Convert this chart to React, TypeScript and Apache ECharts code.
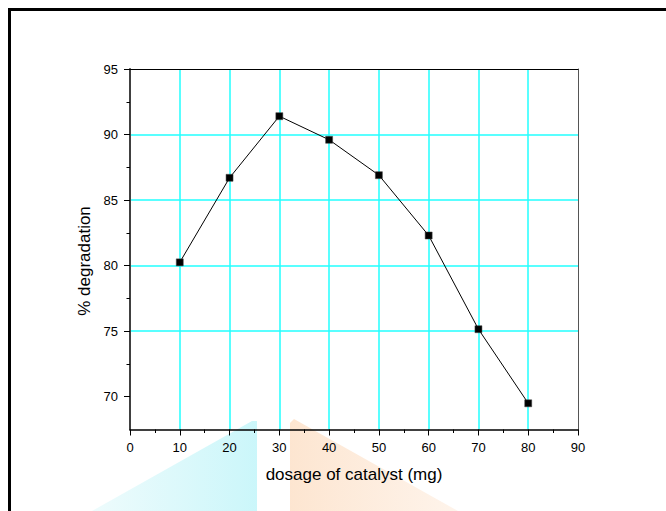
import React, { useEffect, useRef } from 'react';
import * as echarts from 'echarts';

const dosage = [10, 20, 30, 40, 50, 60, 70, 80];
const degradation = [80.25, 86.7, 91.4, 89.6, 86.9, 82.3, 75.15, 69.5];
const yMajorTicks = [70, 75, 80, 85, 90, 95];
const yMinorTicks = [72.5, 77.5, 82.5, 87.5, 92.5];
const xTitle = 'dosage of catalyst (mg)';
const yTitle = '% degradation';

export default function App() {
  const ref = useRef<HTMLDivElement>(null);
  useEffect(() => {
    const chart = echarts.init(ref.current!, null, { renderer: 'svg' });
    const font = "'Liberation Sans', Arial, sans-serif";
    const grid = '#22ffff';
    chart.setOption({
      animation: false,
      backgroundColor: '#ffffff',
      textStyle: { fontFamily: font },
      grid: { left: 130, top: 69, right: 88, bottom: 81.5, containLabel: false },
      graphic: [
        {
          type: 'polygon', z: -10, silent: true,
          shape: { points: [[92, 511], [252, 421], [257, 421], [257, 511]] },
          style: {
            fill: new echarts.graphic.LinearGradient(0, 0, 1, 0, [
              { offset: 0, color: 'rgba(205,245,248,0.35)' },
              { offset: 1, color: 'rgba(200,246,250,0.95)' },
            ]),
          },
        },
        {
          type: 'polygon', z: -10, silent: true,
          shape: { points: [[290, 423], [294, 419], [458, 511], [290, 511]] },
          style: {
            fill: new echarts.graphic.LinearGradient(0, 0, 1, 0, [
              { offset: 0, color: 'rgba(253,228,206,0.95)' },
              { offset: 1, color: 'rgba(253,232,214,0.5)' },
            ]),
          },
        },
        {
          type: 'line', silent: true,
          shape: { x1: 8, y1: 9.5, x2: 666, y2: 9.5 },
          style: { stroke: '#000', lineWidth: 3 },
        },
        {
          type: 'line', silent: true,
          shape: { x1: 9.5, y1: 8, x2: 9.5, y2: 511 },
          style: { stroke: '#000', lineWidth: 3 },
        },
        {
          type: 'text', silent: true,
          x: 84, y: 261, rotation: Math.PI / 2,
          style: {
            text: yTitle, fill: '#000', font: `17px ${font}`,
            align: 'center', verticalAlign: 'middle',
          },
        },
      ],
      xAxis: [
        {
          type: 'value', min: 0, max: 90, interval: 10, position: 'bottom',
          axisLine: { show: true, onZero: false, lineStyle: { color: '#000', width: 1.5 } },
          axisTick: { show: true, inside: false, length: 6, lineStyle: { color: '#000', width: 1 } },
          minorTick: { show: true, splitNumber: 2, length: 3.5, lineStyle: { color: '#000', width: 1 } },
          axisLabel: { show: true, margin: 11, color: '#000', fontSize: 13, fontFamily: font },
          splitLine: { show: true, showMinLine: false, showMaxLine: false, lineStyle: { color: grid, width: 1.5 } },
          name: xTitle, nameLocation: 'middle', nameGap: 36,
          nameTextStyle: { color: '#000', fontSize: 17, fontFamily: font },
        },
        {
          type: 'value', min: 0, max: 90, position: 'top',
          axisLine: { show: true, onZero: false, lineStyle: { color: '#000', width: 1 } },
          axisTick: { show: false }, axisLabel: { show: false }, splitLine: { show: false },
        },
      ],
      yAxis: [
        {
          type: 'value', min: 67.5, max: 95, position: 'left',
          axisLine: { show: true, onZero: false, lineStyle: { color: '#404040', width: 2 } },
          axisTick: { show: true, inside: false, length: 6, customValues: yMajorTicks, lineStyle: { color: '#000', width: 1 } },
          axisLabel: { show: true, margin: 12, customValues: yMajorTicks, color: '#000', fontSize: 13, fontFamily: font },
          splitLine: { show: true, showMinLine: false, showMaxLine: false, lineStyle: { color: grid, width: 1.5 } },
        },
        {
          type: 'value', min: 67.5, max: 95, position: 'left',
          axisLine: { show: false },
          axisTick: { show: true, inside: false, length: 3.5, customValues: yMinorTicks, lineStyle: { color: '#000', width: 1 } },
          axisLabel: { show: false }, splitLine: { show: false },
        },
        {
          type: 'value', min: 67.5, max: 95, position: 'right',
          axisLine: { show: true, onZero: false, lineStyle: { color: '#555', width: 1 } },
          axisTick: { show: false }, axisLabel: { show: false }, splitLine: { show: false },
        },
      ],
      series: [
        {
          type: 'line',
          xAxisIndex: 0, yAxisIndex: 0,
          data: dosage.map((d, i) => [d, degradation[i]]),
          symbol: 'rect', symbolSize: 7,
          itemStyle: { color: '#000', borderColor: '#444', borderWidth: 0.5 },
          lineStyle: { color: '#000', width: 1 },
          z: 5,
        },
      ],
    });
    return () => chart.dispose();
  }, []);
  return <div ref={ref} style={{ position: 'fixed', left: 0, top: 0, width: 666, height: 511 }} />;
}
